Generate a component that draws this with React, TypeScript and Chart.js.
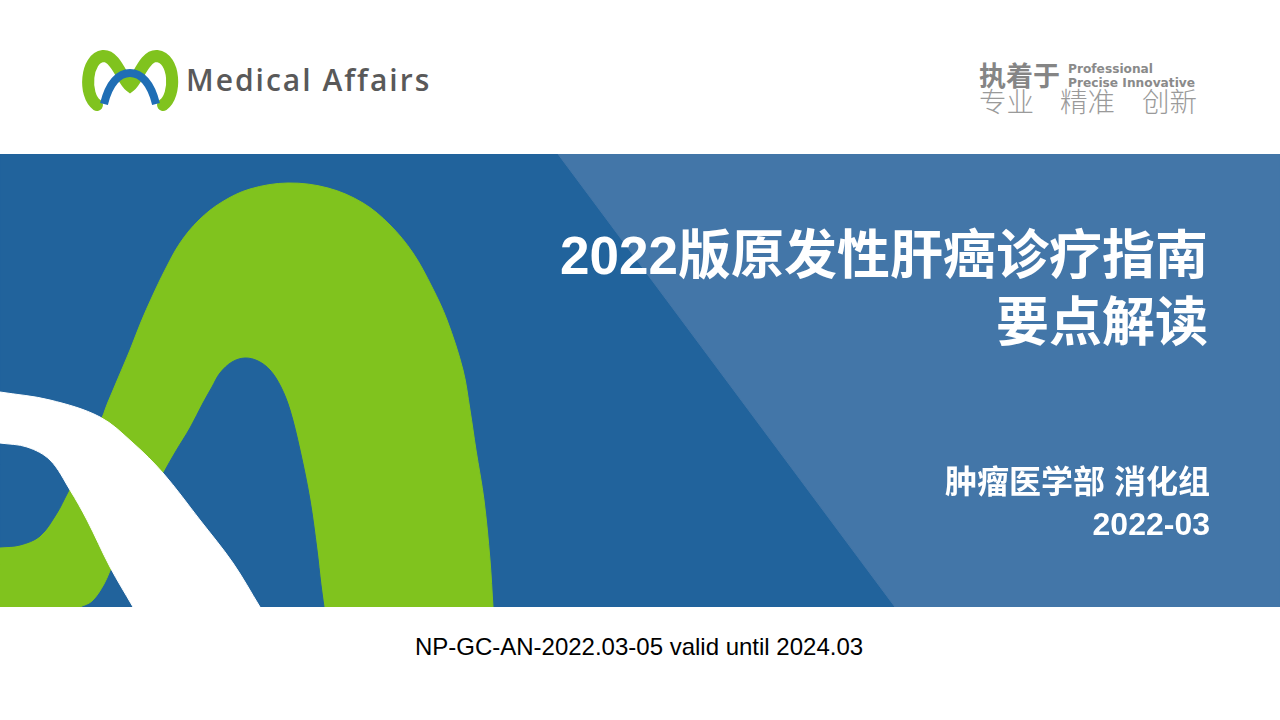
import React, { useEffect, useRef } from "react";
import { Chart, registerables } from "chart.js";

Chart.register(...registerables);

// Shape outlines of the banner artwork, in slide pixel coordinates [x, y]
const bannerOutline: number[][] = [
  [0, 154], [1280, 154], [1280, 607], [0, 607], [0, 154],
];
const lightBandOutline: number[][] = [
  [558, 154], [1280, 154], [1280, 607], [895, 607], [558, 154],
];
const greenArchOutline: number[][] = [
  [493, 607], [493, 607], [490, 560], [484, 500], [476, 450], [470, 410], [463, 370],
  [447, 320], [432, 287], [413, 253], [390, 225], [363, 203], [328, 188], [288, 183],
  [250, 189], [222, 202], [199, 220], [180, 243], [165, 270], [152, 297], [141, 322],
  [130, 350], [119, 376], [108, 402], [98, 425], [80, 440], [0, 440], [0, 440],
  [0, 607], [0, 607], [80, 607], [80, 607], [92, 601], [104, 584], [114, 562],
  [125, 545], [125, 545], [324, 607], [324, 607], [493, 607],
];
const archHoleOutline: number[][] = [
  [324, 607], [324, 607], [321, 585], [317, 550], [310, 500], [300, 450], [290, 410],
  [281, 387], [270, 370], [258, 361], [245, 358], [232, 362], [220, 373], [212, 387],
  [203, 403], [190, 428], [176, 451], [163, 474], [150, 500], [150, 500], [140, 520],
  [140, 520], [200, 607], [200, 607], [324, 607],
];
const leftHoleOutline: number[][] = [
  [0, 436], [0, 436], [60, 442], [85, 470], [85, 470], [72, 485], [67, 494], [57, 513],
  [40, 536], [20, 545], [0, 547], [0, 547], [0, 436],
];
const whiteBandOutline: number[][] = [
  [0, 392], [0, 392], [50, 400], [100, 417], [133, 443], [163, 473], [200, 520],
  [233, 563], [260, 607], [260, 607], [133, 607], [133, 607], [110, 567], [87, 520],
  [70, 490], [50, 460], [27, 447], [0, 443], [0, 443], [0, 392],
];

const shapeLayers = [
  { name: "banner", points: bannerOutline, color: "#21639c", tension: 0, order: 10 },
  { name: "lightBand", points: lightBandOutline, color: "#4376a8", tension: 0, order: 9 },
  { name: "greenArch", points: greenArchOutline, color: "#80c31e", tension: 0.35, order: 8 },
  { name: "archHole", points: archHoleOutline, color: "#21639c", tension: 0.35, order: 7 },
  { name: "leftHole", points: leftHoleOutline, color: "#21639c", tension: 0.35, order: 6 },
  { name: "whiteBand", points: whiteBandOutline, color: "#ffffff", tension: 0.35, order: 5 },
];

const titleLines = ["2022版原发性肝癌诊疗指南", "要点解读"];
const departmentText = "肿瘤医学部 消化组";
const dateText = "2022-03";
const footerText = "NP-GC-AN-2022.03-05 valid until 2024.03";
const sloganCn = "执着于";
const sloganEn = ["Professional", "Precise Innovative"];
const sloganWords = ["专业", "精准", "创新"];
const brandName = "Medical Affairs";

const CJK = '"Liberation Sans", Arial, "Noto Sans CJK SC", sans-serif';

function BannerArt() {
  const ref = useRef<HTMLCanvasElement | null>(null);
  useEffect(() => {
    if (!ref.current) return;
    const chart = new Chart(ref.current, {
      type: "line",
      data: {
        datasets: shapeLayers.map((l) => ({
          label: l.name,
          data: l.points.map(([x, y]) => ({ x, y })),
          backgroundColor: l.color,
          borderColor: l.color,
          borderWidth: 1,
          pointRadius: 0,
          fill: "shape",
          tension: l.tension,
          order: l.order,
        })),
      },
      options: {
        animation: false,
        responsive: false,
        events: [],
        layout: { padding: 0 },
        plugins: { legend: { display: false }, tooltip: { enabled: false } },
        scales: {
          x: { type: "linear", min: 0, max: 1280, display: false },
          y: { type: "linear", min: 154, max: 607, reverse: true, display: false },
        },
      },
    });
    return () => chart.destroy();
  }, []);
  return (
    <canvas
      ref={ref}
      width={1280}
      height={453}
      style={{ position: "absolute", left: 0, top: 154, width: 1280, height: 453 }}
    />
  );
}

function Logo() {
  return (
    <svg
      width={100}
      height={72}
      viewBox="80 45 100 72"
      style={{ position: "absolute", left: 80, top: 45 }}
    >
      <path
        d="M 97 105 C 83 95, 86 58, 103 56 C 116 55, 122 80, 130 86 C 138 80, 144 55, 157 56 C 175 58, 177 95, 163 105"
        fill="none"
        stroke="#80c31e"
        strokeWidth={12}
        strokeLinecap="round"
      />
      <path
        d="M 104 104 C 109 83, 119 73, 130 73 C 141 73, 151 83, 156 104"
        fill="none"
        stroke="#1f6eb5"
        strokeWidth={8}
      />
    </svg>
  );
}

export default function App() {
  useEffect(() => {
    document.body.style.margin = "0";
  }, []);
  return (
    <div
      style={{
        position: "fixed",
        left: 0,
        top: 0,
        width: 1280,
        height: 720,
        background: "#ffffff",
        overflow: "hidden",
      }}
    >
      <Logo />
      <div
        style={{
          position: "absolute",
          left: 186,
          top: 60,
          fontFamily: '"Open Sans", "Noto Sans", sans-serif',
          fontSize: 30,
          fontWeight: 600,
          letterSpacing: 2,
          color: "#595959",
          lineHeight: "40px",
          whiteSpace: "nowrap",
        }}
      >
        {brandName}
      </div>

      <div
        style={{
          position: "absolute",
          left: 979,
          top: 59,
          fontFamily: '"Noto Sans CJK SC", sans-serif',
          fontSize: 27,
          fontWeight: 700,
          color: "#858585",
          lineHeight: "32px",
        }}
      >
        {sloganCn}
      </div>
      <div
        style={{
          position: "absolute",
          left: 1068,
          top: 62,
          fontFamily: '"DejaVu Sans", sans-serif',
          fontSize: 12.2,
          fontWeight: 700,
          color: "#8a8a8a",
          lineHeight: "14px",
          whiteSpace: "nowrap",
        }}
      >
        <div>{sloganEn[0]}</div>
        <div>{sloganEn[1]}</div>
      </div>
      {sloganWords.map((w, i) => (
        <div
          key={w}
          style={{
            position: "absolute",
            left: [979, 1060, 1142][i],
            top: 83,
            fontFamily: '"Noto Sans CJK SC", sans-serif',
            fontSize: 27.5,
            fontWeight: 300,
            color: "#9a9a9a",
            lineHeight: "34px",
            whiteSpace: "nowrap",
          }}
        >
          {w}
        </div>
      ))}

      <BannerArt />

      {titleLines.map((t, i) => (
        <div
          key={t}
          style={{
            position: "absolute",
            right: 72,
            top: 228 + i * 67,
            fontFamily: CJK,
            fontSize: 53,
            fontWeight: 700,
            color: "#ffffff",
            lineHeight: "56px",
            whiteSpace: "nowrap",
            textAlign: "right",
          }}
        >
          {t}
        </div>
      ))}
      <div
        style={{
          position: "absolute",
          right: 70,
          top: 462,
          fontFamily: CJK,
          fontSize: 32,
          fontWeight: 700,
          color: "#ffffff",
          lineHeight: "40px",
          whiteSpace: "nowrap",
        }}
      >
        {departmentText}
      </div>
      <div
        style={{
          position: "absolute",
          right: 70,
          top: 504,
          fontFamily: CJK,
          fontSize: 32,
          fontWeight: 700,
          color: "#ffffff",
          lineHeight: "40px",
          whiteSpace: "nowrap",
        }}
      >
        {dateText}
      </div>

      <div
        style={{
          position: "absolute",
          left: 0,
          width: 1280,
          top: 633,
          textAlign: "center",
          fontFamily: '"Liberation Sans", Arial, sans-serif',
          fontSize: 24,
          color: "#000000",
          lineHeight: "28px",
          whiteSpace: "nowrap",
        }}
      >
        <span style={{ marginLeft: -2 }}>{footerText}</span>
      </div>
    </div>
  );
}
